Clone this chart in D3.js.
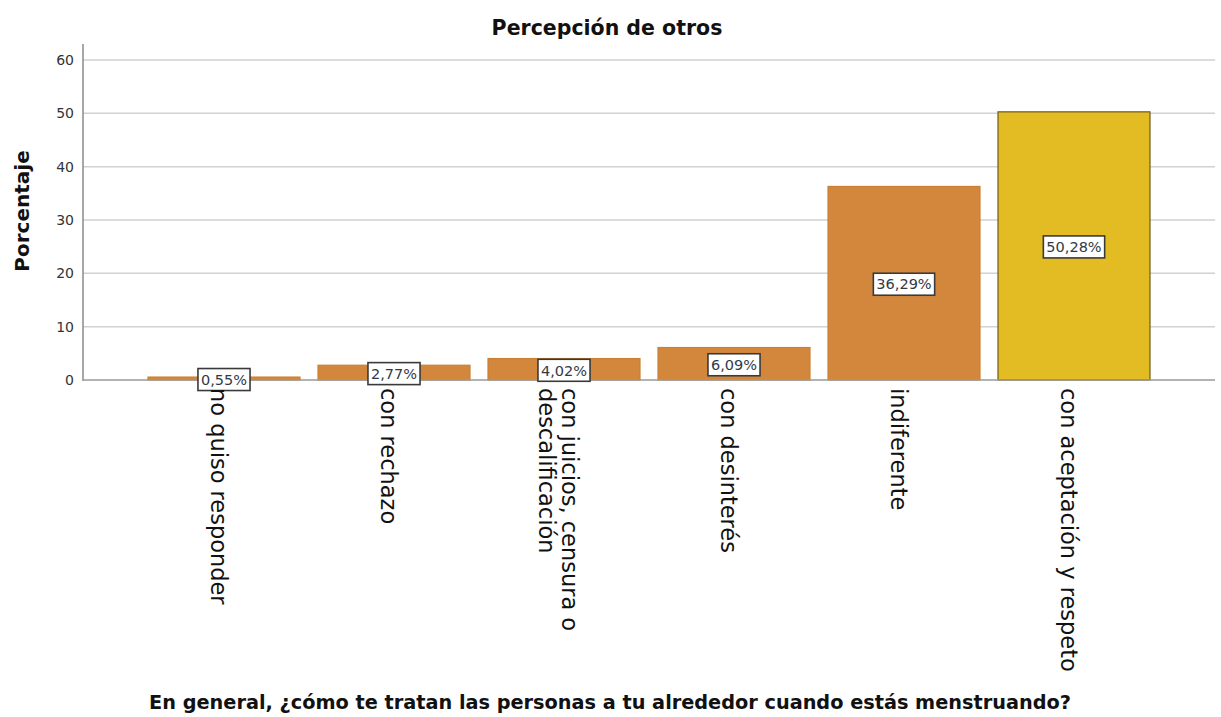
<!DOCTYPE html>
<html><head><meta charset="utf-8">
<script src="https://cdn.jsdelivr.net/npm/d3@7"></script>
<style>body{margin:0;background:#fff}svg{display:block}</style>
</head><body>
<script>
const categories = ["no quiso responder","con rechazo","con juicios, censura o descalificación","con desinterés","indiferente","con aceptación y respeto"];
const labelLines = [["no quiso responder"],["con rechazo"],["con juicios, censura o","descalificación"],["con desinterés"],["indiferente"],["con aceptación y respeto"]];
const values = [0.55, 2.77, 4.02, 6.09, 36.29, 50.28];
const valueLabels = ["0,55%","2,77%","4,02%","6,09%","36,29%","50,28%"];
const yTicks = [0,10,20,30,40,50,60];
const title = "Percepción de otros";
const xTitle = "En general, ¿cómo te tratan las personas a tu alrededor cuando estás menstruando?";
const yTitle = "Porcentaje";

const W = 1221, H = 717;
const svg = d3.select("body").append("svg").attr("width", W).attr("height", H);
const font = "'DejaVu Sans', Verdana, sans-serif";

const y = d3.scaleLinear().domain([0, 60]).range([380, 60]);
const x = d3.scaleBand().domain(categories).range([139, 1159]).paddingInner(0.106).paddingOuter(0.053);
const axisX = 83, rightX = 1215;

// gridlines
svg.append("g").selectAll("line").data(yTicks.filter(d => d > 0)).join("line")
  .attr("x1", axisX).attr("x2", rightX).attr("y1", d => y(d)).attr("y2", d => y(d))
  .attr("stroke", "#d2d2d2").attr("stroke-width", 1.5);

// y axis
const yAxis = svg.append("g").attr("transform", `translate(${axisX},0)`)
  .call(d3.axisLeft(y).tickValues(yTicks).tickSize(0).tickPadding(9));
yAxis.select(".domain").remove();
yAxis.selectAll("text").attr("font-family", font).attr("font-size", 14).attr("fill", "#333");
svg.append("line").attr("x1", axisX).attr("x2", axisX).attr("y1", 44).attr("y2", 381)
  .attr("stroke", "#8a8a8a").attr("stroke-width", 1.5);

// bars
const colors = values.map((v, i) => i === values.length - 1 ? "#e2bc22" : "#d2873d");
const strokes = values.map((v, i) => i === values.length - 1 ? "#6e5a1c" : "#c98032");
svg.append("g").selectAll("rect").data(values).join("rect")
  .attr("x", (d, i) => x(categories[i]))
  .attr("width", x.bandwidth())
  .attr("y", d => y(d))
  .attr("height", d => y(0) - y(d))
  .attr("fill", (d, i) => colors[i])
  .attr("stroke", (d, i) => strokes[i]).attr("stroke-width", 1.2);

// baseline
svg.append("line").attr("x1", axisX).attr("x2", rightX).attr("y1", y(0)).attr("y2", y(0))
  .attr("stroke", "#9a9a9a").attr("stroke-width", 1.5);

// value labels
const lg = svg.append("g").selectAll("g").data(values).join("g")
  .attr("transform", (d, i) => `translate(${x(categories[i]) + x.bandwidth() / 2},${(y(d) + y(0)) / 2 + 1})`);
lg.each(function(d, i) {
  const g = d3.select(this);
  const t = g.append("text").text(valueLabels[i]).attr("font-family", font).attr("font-size", 14.5)
    .attr("fill", "#2f3a48").attr("text-anchor", "middle").attr("dy", "0.36em");
  const w = t.node().getComputedTextLength();
  g.insert("rect", "text").attr("x", -w / 2 - 3).attr("y", -11).attr("width", w + 6).attr("height", 22)
    .attr("fill", "#fff").attr("stroke", "#3a3a3a").attr("stroke-width", 1.6);
});

// x category labels
const xl = svg.append("g").selectAll("text").data(categories).join("text")
  .attr("transform", (d, i) => `translate(${x(d) + x.bandwidth() / 2 - 5},388) rotate(90)`)
  .attr("font-family", font).attr("font-size", 22.5).attr("fill", "#111");
xl.each(function(d, i) {
  const lines = labelLines[i];
  const t = d3.select(this);
  const n = lines.length;
  lines.forEach((ln, j) => {
    t.append("tspan").attr("x", 0).attr("y", 0)
      .attr("dy", (0.36 - (n - 1 - j) * 1.02 + (n - 1) * 0.51) + "em").text(ln);
  });
});

// titles
svg.append("text").attr("x", 607).attr("y", 35).attr("text-anchor", "middle")
  .attr("font-family", font).attr("font-weight", "bold").attr("font-size", 20.5).attr("fill", "#111").text(title);
svg.append("text").attr("x", 610).attr("y", 709).attr("text-anchor", "middle")
  .attr("font-family", font).attr("font-weight", "bold").attr("font-size", 19.3).attr("fill", "#111").text(xTitle);
svg.append("text").attr("transform", "translate(29,211) rotate(-90)").attr("text-anchor", "middle")
  .attr("font-family", font).attr("font-weight", "bold").attr("font-size", 20).attr("fill", "#111").text(yTitle);
</script>
</body></html>
